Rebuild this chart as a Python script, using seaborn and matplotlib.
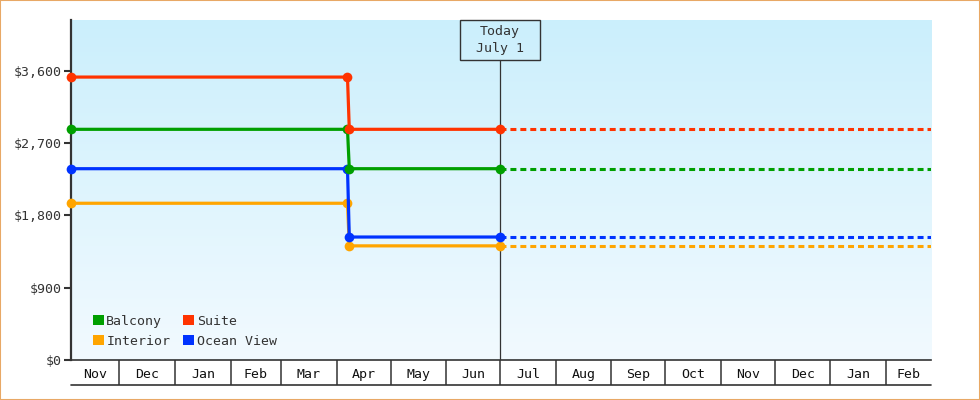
import matplotlib
matplotlib.use('Agg')

import matplotlib.pyplot as plt
import matplotlib.dates as mdates
import matplotlib.ticker as mticker
import matplotlib.transforms as mtransforms
from matplotlib.colors import LinearSegmentedColormap
from matplotlib.patches import Patch, Rectangle
import seaborn as sns
import numpy as np
import pandas as pd

# cabin order = drawing order (later ones sit on top)
CABINS = ["Interior", "Ocean View", "Balcony", "Suite"]
COLORS = ["#FFA500", "#0033FF", "#009F00", "#FF3300"]
PRICE_BEFORE = [1950, 2380, 2870, 3520]
PRICE_AFTER = [1420, 1530, 2380, 2870]
LEGEND_ORDER = ["Balcony", "Interior", "Suite", "Ocean View"]

START = "2024-11-04"
DROP_FROM = "2025-04-07"
DROP_TO = "2025-04-08"
TODAY = "2025-07-01"
END = "2026-02-26"

Y_TICKS = [0, 900, 1800, 2700, 3600]
Y_MAX = 4230

INK = "#333333"

history = []
future = []
for cabin, before, after in zip(CABINS, PRICE_BEFORE, PRICE_AFTER):
    history += [(START, before, cabin), (DROP_FROM, before, cabin),
                (DROP_TO, after, cabin), (TODAY, after, cabin)]
    future += [(TODAY, after, cabin), (END, after, cabin)]
history = pd.DataFrame(history, columns=["date", "price", "cabin"])
future = pd.DataFrame(future, columns=["date", "price", "cabin"])
history["date"] = pd.to_datetime(history["date"])
future["date"] = pd.to_datetime(future["date"])

sns.set_style("white")
plt.rcParams['font.family'] = ['DejaVu Sans Mono', 'DejaVu Sans']

fig = plt.figure(figsize=(9.8, 4), dpi=100)
rect = [71 / 980, 40 / 400, 860 / 980, 340 / 400]

# gradient background behind the plot
bg = fig.add_axes(rect, zorder=0)
cmap_bg = LinearSegmentedColormap.from_list("bg", ["#CBEFFC", "#F2FAFF"])
bg.imshow(np.linspace(0, 1, 256).reshape(-1, 1), cmap=cmap_bg, aspect="auto",
          extent=[0, 1, 0, 1])
bg.axis("off")

ax = fig.add_axes(rect, zorder=1)
ax.patch.set_alpha(0)

x_min = pd.Timestamp(START)
x_max = pd.Timestamp(END)
today = pd.Timestamp(TODAY)

sns.lineplot(data=future, x="date", y="price", hue="cabin", hue_order=CABINS,
             palette=COLORS, linewidth=2.2, linestyle=(0, (1.95, 1.3)),
             legend=False, errorbar=None, ax=ax, zorder=3)
sns.lineplot(data=history, x="date", y="price", hue="cabin", hue_order=CABINS,
             palette=COLORS, linewidth=2.3, marker="o", markersize=7,
             markeredgewidth=0, legend=False, errorbar=None, ax=ax,
             zorder=4, clip_on=False)

ax.set_xlim(x_min, x_max)
ax.set_ylim(0, Y_MAX)
ax.set_xlabel("")
ax.set_ylabel("")

# y axis
ax.set_yticks(Y_TICKS)
ax.yaxis.set_major_formatter(mticker.FuncFormatter(lambda v, _: f"${v:,.0f}"))
ax.tick_params(axis="y", length=5, width=1.5, color=INK, labelsize=9.5,
               labelcolor=INK, pad=2, left=True)

# x axis: separators at month starts, labels centred in each visible month
ax.xaxis.set_major_locator(mdates.MonthLocator())
ax.xaxis.set_major_formatter(mticker.NullFormatter())
month_starts = pd.date_range(x_min.to_period("M").to_timestamp(), x_max, freq="MS")
mids, names = [], []
for m in month_starts:
    left = max(m, x_min)
    right = min(m + pd.offsets.MonthBegin(1), x_max)
    mids.append(mdates.date2num(left + (right - left) / 2))
    names.append(m.strftime("%b"))
ax.set_xticks(mids, minor=True)
ax.set_xticklabels(names, minor=True)
ax.tick_params(axis="x", which="major", direction="out", length=18, width=1.1,
               color=INK, bottom=True)
ax.tick_params(axis="x", which="minor", length=0, labelsize=9.5,
               labelcolor="#111111", pad=6)
ax.plot([0, 1], [-25 / 340] * 2, transform=ax.transAxes, clip_on=False,
        color=INK, lw=1.2)

for side in ("top", "right"):
    ax.spines[side].set_visible(False)
ax.spines["left"].set_linewidth(1.6)
ax.spines["left"].set_color(INK)
ax.spines["bottom"].set_linewidth(1.2)
ax.spines["bottom"].set_color(INK)

# today marker
blend = mtransforms.blended_transform_factory(ax.transData, ax.transAxes)
t = mdates.date2num(today)
box_bottom = 300 / 340
ax.axvline(today, ymin=0, ymax=box_bottom, color=INK, lw=0.9, zorder=2)
box_w = 80 / 860 * (mdates.date2num(x_max) - mdates.date2num(x_min))
ax.add_patch(Rectangle((t - box_w / 2, box_bottom), box_w, 1 - box_bottom,
                       transform=blend, fill=False, edgecolor=INK, lw=1,
                       clip_on=False, zorder=5))
ax.text(t, (1 + box_bottom) / 2, "Today\nJuly 1", transform=blend, ha="center",
        va="center", fontsize=9.5, linespacing=1.35, color=INK, zorder=5)

# legend
handles = [Patch(facecolor=COLORS[CABINS.index(c)], edgecolor="none", label=c)
           for c in LEGEND_ORDER]
ax.legend(handles=handles, ncol=2, loc="lower left",
          bbox_to_anchor=(0.018, 0.017), frameon=False, fontsize=9.5,
          handlelength=0.8, handleheight=0.8, handletextpad=0.2,
          columnspacing=1.0, labelspacing=0.5, borderpad=0,
          labelcolor=INK)

fig.add_artist(Rectangle((0, 0), 1, 1, transform=fig.transFigure, fill=False,
                         edgecolor="#E8A865", lw=1.5))

fig.savefig("out.png", dpi=100)
plt.close(fig)
